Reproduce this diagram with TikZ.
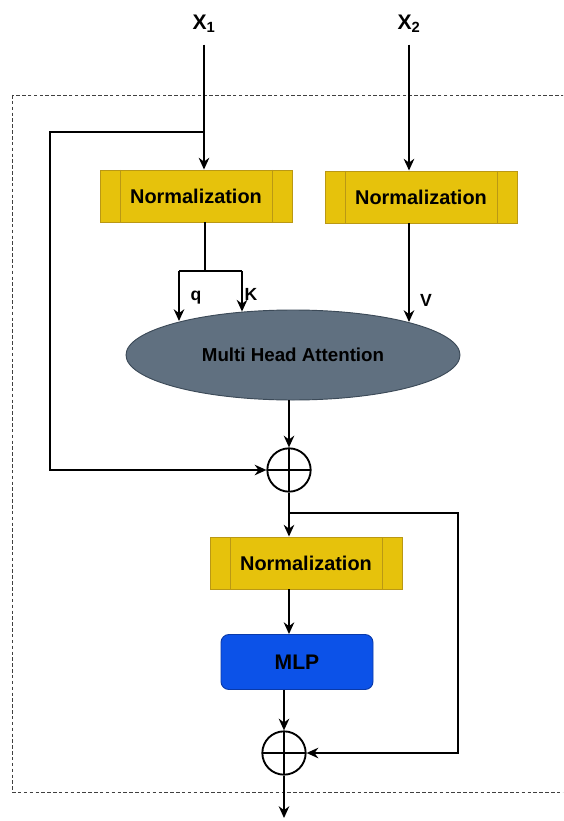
\documentclass[tikz,border=0pt]{standalone}
\usepackage{fontspec}
\setmainfont{Liberation Sans}
\usetikzlibrary{shapes.geometric, arrows.meta}
\definecolor{normfill}{RGB}{230,194,12}
\definecolor{normedge}{RGB}{186,152,20}
\definecolor{mhafill}{RGB}{96,112,128}
\definecolor{mhaedge}{RGB}{60,74,88}
\definecolor{mlpfill}{RGB}{12,82,232}
\definecolor{mlpedge}{RGB}{10,58,170}
\tikzstyle{arrow} = [line width=1.6pt,->,>={Stealth[length=10pt,width=9pt]}]
\tikzstyle{line} = [line width=1.6pt]

\begin{document}
\begin{tikzpicture}[x=0.03cm, y=-0.03cm]

\tikzset{normbox/.style = {rectangle, draw=normedge, line width=0.8pt, fill=normfill,
            minimum width=5.76cm, minimum height=1.56cm, inner sep=0pt,
            font=\fontsize{17}{20}\selectfont\bfseries,
            path picture={
              \draw[normedge, line width=0.8pt] ([xshift=0.6cm]path picture bounding box.north west) -- ([xshift=0.6cm]path picture bounding box.south west);
              \draw[normedge, line width=0.8pt] ([xshift=-0.6cm]path picture bounding box.north east) -- ([xshift=-0.6cm]path picture bounding box.south east);}},
         mhabox/.style = {ellipse, draw=mhaedge, line width=0.8pt, fill=mhafill, inner sep=0pt,
            minimum width=10.02cm, minimum height=2.7cm, font=\fontsize{16}{19}\selectfont\bfseries},
         mlpbox/.style = {rectangle, rounded corners=0.24cm, draw=mlpedge, line width=0.8pt, fill=mlpfill,
            minimum width=4.56cm, minimum height=1.65cm, font=\fontsize{18}{21}\selectfont\bfseries},
         addop/.style = {circle, draw, line width=1.6pt, minimum size=1.3cm, inner sep=0pt,
            path picture={
              \draw[line width=1.6pt] (path picture bounding box.north) -- (path picture bounding box.south);
              \draw[line width=1.6pt] (path picture bounding box.west) -- (path picture bounding box.east);}},
         inputlabel/.style = {font=\fontsize{18}{20}\selectfont\bfseries, inner sep=0pt, anchor=south},
         kqvlabel/.style = {font=\fontsize{15}{17}\selectfont\bfseries},
         dashbox/.style = {draw=black!75, line width=0.8pt, dash pattern=on 3pt off 2pt}}

\clip (0,0) rectangle (563,821);

% block border
\draw[dashbox] (12,95) rectangle (590,792);

% inputs
\node[inputlabel] (x1) at (204,33) {X\textsubscript{1}};
\node[inputlabel] (x2) at (409,33) {X\textsubscript{2}};

% attention part
\node[normbox] (norm1) at (196,196) {Normalization};
\node[normbox] (norm2) at (421,197) {Normalization};
\node[mhabox] (mha) at (293,355) {Multi Head Attention};
\node[addop] (add1) at (289,470) {};

\node[kqvlabel] (qlab) at (196,298) {q};
\node[kqvlabel] (klab) at (251,294) {K};
\node[kqvlabel] (vlab) at (426,300) {V};

\coordinate (br1) at (204,132);
\coordinate (sk1) at (50,132);
\coordinate (split) at (205,271);
\coordinate (qtop) at (179,271);
\coordinate (ktop) at (242,271);

\draw[arrow, shorten <=10pt] (x1.south) -- (x1.south |- norm1.north);
\draw[arrow, shorten <=10pt] (x2.south) -- (x2.south |- norm2.north);
\draw[arrow] (br1) -- (sk1) |- (add1.west);

\draw[line] (split |- norm1.south) -- (split);
\draw[line] (qtop) -- (ktop);
\draw[arrow] (qtop) -- (qtop |- mha.163.9);
\draw[arrow] (ktop) -- (ktop |- mha.139.9);
\draw[arrow] (x2.south |- norm2.south) -- (x2.south |- mha.16.1);
\draw[arrow] (add1.north |- mha.south) -- (add1.north);

% mlp part
\node[normbox] (norm3) at (306,563) {Normalization};
\node[mlpbox] (mlp) at (297,662) {MLP};
\node[addop] (add2) at (284,753) {};

\coordinate (br2) at (289,513);
\coordinate (sk2) at (458,513);
\coordinate (out) at (284,818);

\draw[arrow] (add1.south) -- (add1.south |- norm3.north);
\draw[arrow] (br2) -- (sk2) |- (add2.east);
\draw[arrow] (add1.south |- norm3.south) -- (add1.south |- mlp.north);
\draw[arrow] (add2.north |- mlp.south) -- (add2.north);
\draw[arrow] (add2.south) -- (out);

\end{tikzpicture}
\end{document}
